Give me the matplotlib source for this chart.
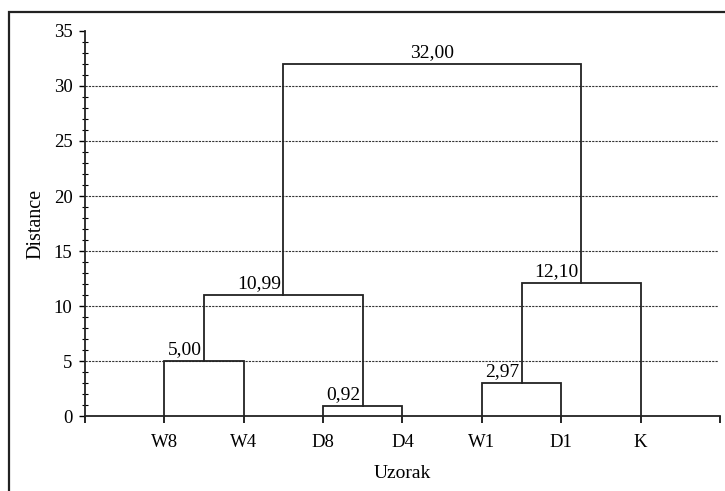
import matplotlib
matplotlib.use("Agg")
import matplotlib.pyplot as plt
from matplotlib.patches import Rectangle
from matplotlib.ticker import MultipleLocator

# podaci dendrograma
leaves = ["W8", "W4", "D8", "D4", "W1", "D1", "K"]
merge_a = [0, 2, 4, 7, 9, 10]
merge_b = [1, 3, 5, 8, 6, 11]
heights = [5.00, 0.92, 2.97, 10.99, 12.10, 32.00]

plt.rcParams["font.family"] = ["Liberation Serif", "DejaVu Serif"]
plt.rcParams["font.size"] = 13.5

fig = plt.figure(figsize=(7.25, 4.91), dpi=100)
ax = fig.add_axes([0.1172, 0.1527, 0.8759, 0.7842])

# okvir oko slike
fig.patches.append(Rectangle((9 / 725, -0.1), 1.2, 0.1 + (1 - 12 / 491),
                             transform=fig.transFigure, fill=False,
                             lw=1.6, ec="#222222"))

# pozicije i visine klastera
xpos = {i: i + 1 for i in range(len(leaves))}
ypos = {i: 0.0 for i in range(len(leaves))}
n = len(leaves)
for k, (a, b, h) in enumerate(zip(merge_a, merge_b, heights)):
    xa, xb = xpos[a], xpos[b]
    ax.plot([xa, xa, xb, xb], [ypos[a], h, h, ypos[b]], color="#222222", lw=1.3,
            solid_joinstyle="miter", zorder=3)
    mid = (xa + xb) / 2
    xpos[n + k] = mid
    ypos[n + k] = h
    txt = f"{h:.2f}".replace(".", ",")
    if k == len(heights) - 1:
        ax.text(mid, h + 0.3, txt, ha="center", va="bottom", fontsize=14)
    else:
        ax.text(mid - 0.03, h + 0.3, txt, ha="right", va="bottom", fontsize=14)

for g in range(5, 35, 5):
    ax.axhline(g, color="#333333", lw=0.8, ls=(0, (2, 1)), xmax=0.997, zorder=1)

ax.set_xlim(0, 8)
ax.set_ylim(0, 35)
ax.set_xticks(range(0, 9))
ax.set_xticklabels([""] + leaves + [""])
ax.yaxis.set_major_locator(MultipleLocator(5))
ax.yaxis.set_minor_locator(MultipleLocator(1))
ax.tick_params(axis="x", direction="out", length=5, width=1.2, pad=8, labelsize=13.5)
ax.tick_params(axis="y", which="major", direction="out", length=4, width=1.0, pad=5, labelsize=13.5)
ax.tick_params(axis="y", which="minor", direction="inout", length=4, width=0.8)

for s in ["top", "right"]:
    ax.spines[s].set_visible(False)
for s in ["left", "bottom"]:
    ax.spines[s].set_linewidth(1.3)
    ax.spines[s].set_color("#222222")

ax.set_xlabel("Uzorak", fontsize=14, labelpad=10)
ax.set_ylabel("Distance", fontsize=14.5, labelpad=6)

fig.savefig("out.png", dpi=100)
